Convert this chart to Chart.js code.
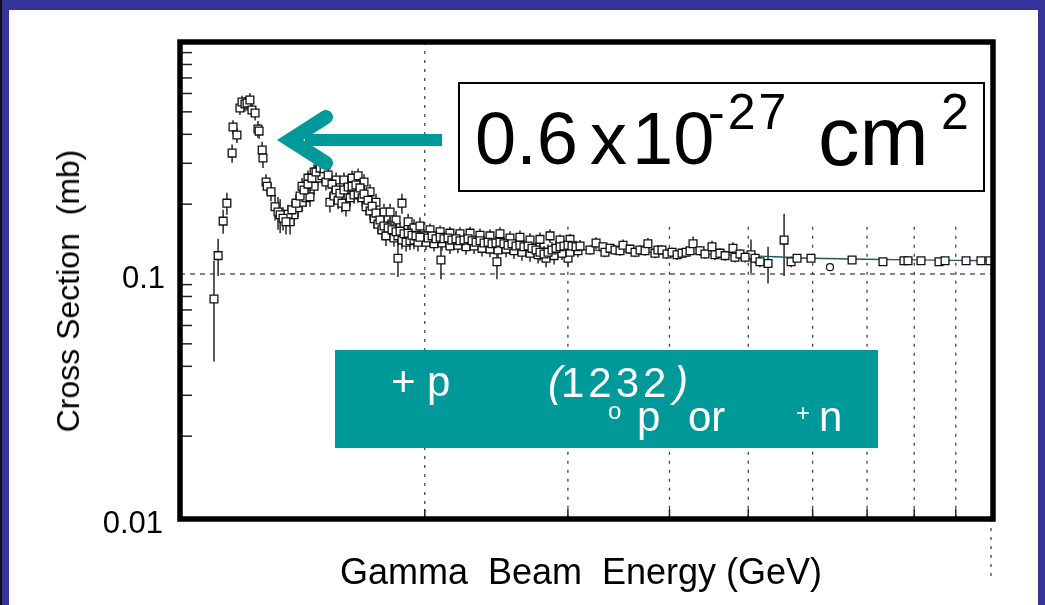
<!DOCTYPE html>
<html>
<head>
<meta charset="utf-8">
<script src="https://cdn.jsdelivr.net/npm/chart.js@4.4.1/dist/chart.umd.min.js"></script>
<style>
  html, body { margin: 0; padding: 0; }
  body { width: 1045px; height: 605px; background: #333399; position: relative; overflow: hidden;
         font-family: "Liberation Sans", Arial, sans-serif; }
  #edge { position: absolute; left: 0; top: 0; width: 2px; height: 605px; background: #111; }
  #panel { position: absolute; left: 9px; top: 10px; width: 1029px; height: 595px; background: #fff; }
  #wrap { position: absolute; left: 0; top: 0; width: 1045px; height: 605px; }
  .t { position: absolute; white-space: pre; color: #000; line-height: 1; }
  .w { color: #fff; }
  #bigbox { position: absolute; left: 458px; top: 82px; width: 523px; height: 106px;
            border: 2px solid #000; background: #fff; }
  #teal { position: absolute; left: 335px; top: 350px; width: 543px; height: 98px; background: #009999; }
</style>
</head>
<body>
<div id="edge"></div>
<div id="panel"></div>
<div id="wrap"><canvas id="chart" width="1045" height="605"></canvas></div>

<div class="t" style="font-size:32px;left:68px;top:291px;transform:translate(-50%,-50%) rotate(-90deg);">Cross Section  (mb)</div>
<div class="t" style="font-size:31px;right:880px;top:262px;">0.1</div>
<div class="t" style="font-size:31px;right:882px;top:507px;">0.01</div>
<div class="t" style="font-size:36px;left:581px;top:554px;transform:translateX(-50%);">Gamma  Beam  Energy (GeV)</div>

<div id="bigbox"></div>
<div class="t" style="font-size:74px;left:475px;top:102px;">0.6</div>
<div class="t" style="font-size:74px;left:590px;top:102px;">x</div>
<div class="t" style="font-size:74px;left:632px;top:102px;">10</div>
<div class="t" style="font-size:50px;left:708px;top:87px;letter-spacing:3px;">-27</div>
<div class="t" style="font-size:83px;left:818px;top:95px;">cm</div>
<div class="t" style="font-size:50px;left:941px;top:87px;">2</div>

<svg width="1045" height="605" style="position:absolute;left:0;top:0;">
  <line x1="305" y1="140" x2="442" y2="140" stroke="#009999" stroke-width="12"/>
  <polyline points="326,117 290,140 326,163" fill="none" stroke="#009999" stroke-width="14"
            stroke-linecap="round" stroke-linejoin="miter"/>
</svg>

<div id="teal"></div>
<div class="t w" style="font-size:42px;left:391px;top:361px;">+</div>
<div class="t w" style="font-size:42px;left:427px;top:361px;">p</div>
<div class="t w" style="font-size:42px;left:548px;top:361px;font-style:italic;">(</div>
<div class="t w" style="font-size:42px;left:561px;top:362px;letter-spacing:4px;">1232</div>
<div class="t w" style="font-size:42px;left:674px;top:361px;font-style:italic;">)</div>
<div class="t w" style="font-size:24px;left:608px;top:399px;">o</div>
<div class="t w" style="font-size:42px;left:637px;top:396px;">p</div>
<div class="t w" style="font-size:42px;left:688px;top:396px;">or</div>
<div class="t w" style="font-size:24px;left:796px;top:401px;">+</div>
<div class="t w" style="font-size:42px;left:819px;top:396px;">n</div>

<script>
// gamma-p total cross section (E in GeV, sigma in mb)
const deltaE   = [1.101,1.114,1.130,1.142,1.159,1.162,1.175,1.185,1.192,1.202,1.209,1.219,1.226,1.237,1.247,1.251,1.262,1.265,1.276,1.280,1.294,1.309,1.320,1.328,1.339,1.350];
const deltaXS  = [0.078,0.120,0.169,0.202,0.332,0.430,0.397,0.519,0.551,0.540,0.546,0.562,0.509,0.494,0.422,0.413,0.342,0.316,0.249,0.239,0.226,0.195,0.185,0.180,0.174,0.168];
const deltaErr = [0.036,0.022,0.020,0.022,0.030,0.030,0.030,0.035,0.035,0.040,0.040,0.040,0.035,0.035,0.035,0.030,0.030,0.030,0.020,0.020,0.020,0.025,0.030,0.030,0.020,0.020];

const resE   = [1.358,1.373,1.389,1.405,1.421,1.437,1.453,1.470,1.487,1.504,1.521,1.538,1.556,1.573,1.591,1.610,1.628,1.646,1.665,1.684,1.703,1.723,1.742,1.762,1.782,1.803,1.823,1.844,1.865,1.886,1.908,1.929,1.951,1.973];
const resXS  = [0.181,0.189,0.202,0.217,0.230,0.244,0.259,0.275,0.286,0.284,0.267,0.244,0.230,0.223,0.230,0.237,0.239,0.242,0.235,0.221,0.208,0.196,0.183,0.171,0.161,0.158,0.155,0.152,0.153,0.149,0.150,0.147,0.146,0.144];
const resErr = [0.018,0.018,0.018,0.018,0.020,0.020,0.020,0.020,0.022,0.022,0.020,0.020,0.018,0.018,0.018,0.018,0.018,0.018,0.018,0.018,0.016,0.016,0.016,0.015,0.015,0.014,0.014,0.014,0.014,0.012,0.012,0.012,0.012,0.012];

const resLowE   = [1.366,1.381,1.397,1.413,1.429,1.445,1.462,1.478,1.495,1.512,1.529,1.547,1.565,1.582,1.600,1.619,1.637,1.656,1.675,1.694,1.713,1.733,1.752,1.772,1.792,1.813,1.833,1.854,1.875,1.897,1.918,1.940,1.962];
const resLowXS  = [0.168,0.180,0.193,0.204,0.213,0.215,0.239,0.259,0.265,0.249,0.204,0.217,0.208,0.202,0.195,0.213,0.219,0.221,0.213,0.195,0.187,0.173,0.164,0.155,0.146,0.161,0.143,0.146,0.140,0.137,0.139,0.140,0.137];
const resLowErr = [0.020,0.018,0.018,0.018,0.018,0.020,0.020,0.020,0.020,0.020,0.020,0.018,0.018,0.018,0.018,0.018,0.018,0.018,0.018,0.016,0.016,0.016,0.015,0.015,0.014,0.014,0.012,0.012,0.012,0.012,0.012,0.012,0.012];

const resHighE   = [1.413,1.437,1.462,1.487,1.512,1.556,1.591,1.628,1.656,1.684,1.713,1.742,1.782,1.813,1.844,1.875,1.908,1.940,1.973];
const resHighXS  = [0.239,0.259,0.275,0.304,0.295,0.254,0.254,0.259,0.265,0.249,0.226,0.204,0.185,0.185,0.171,0.202,0.168,0.158,0.161];
const resHighErr = [0.020,0.020,0.022,0.022,0.022,0.020,0.020,0.020,0.020,0.020,0.018,0.018,0.016,0.016,0.016,0.020,0.014,0.014,0.014];

const bandE   = [1.996,2.019,2.042,2.065,2.089,2.112,2.136,2.160,2.185,2.210,2.235,2.261,2.287,2.313,2.339,2.366,2.393,2.420,2.447,2.475,2.503,2.532,2.561,2.590,2.619,2.649,2.680,2.710,2.741,2.772,2.804,2.836,2.868,2.901,2.934,2.967,3.001,3.035,3.070,3.105];
const bandXS  = [0.146,0.143,0.146,0.142,0.144,0.142,0.143,0.140,0.142,0.139,0.140,0.142,0.139,0.137,0.139,0.136,0.137,0.135,0.136,0.137,0.135,0.133,0.135,0.132,0.133,0.131,0.132,0.129,0.127,0.124,0.122,0.124,0.127,0.129,0.131,0.132,0.133,0.132,0.131,0.132];
const bandErr = [0.010,0.010,0.010,0.010,0.010,0.010,0.010,0.010,0.010,0.010,0.010,0.010,0.010,0.010,0.010,0.010,0.010,0.010,0.010,0.010,0.010,0.010,0.010,0.010,0.010,0.010,0.010,0.010,0.010,0.010,0.010,0.010,0.010,0.010,0.008,0.008,0.008,0.008,0.008,0.008];

const bandLowE   = [2.007,2.053,2.100,2.148,2.197,2.248,2.300,2.352,2.406,2.461,2.518,2.575,2.634,2.695,2.757,2.820,2.885,2.950,3.018,3.087];
const bandLowXS  = [0.137,0.135,0.136,0.132,0.133,0.131,0.132,0.129,0.128,0.127,0.128,0.126,0.124,0.123,0.121,0.117,0.120,0.123,0.124,0.126];
const bandLowErr = [0.010,0.010,0.010,0.010,0.010,0.010,0.010,0.010,0.010,0.010,0.010,0.010,0.010,0.010,0.010,0.010,0.010,0.008,0.008,0.008];

const bandHighE   = [2.030,2.089,2.148,2.210,2.274,2.339,2.406,2.475,2.546,2.619,2.695,2.772,2.852,2.934,3.018];
const bandHighXS  = [0.155,0.152,0.150,0.149,0.150,0.147,0.146,0.149,0.143,0.144,0.140,0.141,0.146,0.140,0.141];
const bandHighErr = [0.010,0.010,0.010,0.010,0.010,0.010,0.010,0.010,0.010,0.010,0.010,0.010,0.010,0.008,0.008];

const highE   = [3.194,3.249,3.313,3.332,3.380,3.428,3.477,3.507,3.577,3.628,3.680,3.733,3.763,3.839,3.871,3.916,3.972,4.029,4.087,4.145,4.193,4.240,4.276,4.361,4.423,4.512,4.550,4.615,4.682,4.788,4.815,4.884,4.955,5.097,5.169,5.645,5.741,5.972,6.709,7.322,7.771,7.860,8.155,8.582,8.730,9.265,9.665,9.916];
const highXS  = [0.127,0.136,0.131,0.124,0.129,0.127,0.126,0.133,0.128,0.124,0.127,0.126,0.135,0.123,0.127,0.127,0.122,0.124,0.121,0.123,0.124,0.126,0.135,0.126,0.122,0.131,0.121,0.123,0.120,0.129,0.118,0.122,0.118,0.117,0.113,0.113,0.117,0.117,0.115,0.113,0.114,0.114,0.114,0.113,0.114,0.114,0.114,0.114];
const highErr = [0.006,0.008,0.006,0.006,0.006,0.006,0.006,0.008,0.006,0.006,0.006,0.006,0.008,0.006,0.006,0.006,0.006,0.006,0.006,0.006,0.006,0.006,0.010,0.006,0.006,0.008,0.006,0.006,0.006,0.008,0.006,0.006,0.006,0.006,0.006,0.006,0.004,0.004,0.003,0.003,0.003,0.003,0.003,0.003,0.003,0.003,0.003,0.003];

const outlierE   = [1.854,2.094,2.454,3.001,5.039,5.288,5.534];
const outlierXS  = [0.117,0.115,0.113,0.117,0.121,0.111,0.140];
const outlierErr = [0.020,0.020,0.018,0.010,0.020,0.020,0.042];

const circleE  = [6.302];
const circleXS = [0.107];

const fitE  = [2.0, 2.5, 3.0, 4.0, 5.0, 6.0, 8.0, 10.0];
const fitXS = [0.136, 0.132, 0.128, 0.123, 0.120, 0.117, 0.115, 0.114];

const xGridValues = [2, 3, 4, 5, 6, 7, 8, 9];
const yMinorTicks = [0.02, 0.03, 0.04, 0.05, 0.06, 0.07, 0.08, 0.09, 0.2, 0.3, 0.4, 0.5, 0.6, 0.7, 0.8, 0.9];

function pts(xs, ys) { return xs.map((x, i) => ({ x: x, y: ys[i] })); }

function squares(xs, ys, errs) {
  return {
    data: pts(xs, ys), errs: errs,
    pointStyle: 'rect', pointRadius: 5.5, pointBorderWidth: 1.3,
    pointBorderColor: '#111', pointBackgroundColor: '#fff', showLine: false
  };
}

// dotted grid, dashed 0.1 line, inside ticks, error bars and heavy frame
const framePlugin = {
  id: 'frame',
  beforeDatasetsDraw(chart) {
    const ctx = chart.ctx, a = chart.chartArea;
    const xs = chart.scales.x, ys = chart.scales.y;
    ctx.save();
    ctx.strokeStyle = '#444';
    ctx.lineWidth = 1.3;
    ctx.setLineDash([3, 6]);
    xGridValues.forEach(v => {
      const px = xs.getPixelForValue(v);
      const top = v === 2 ? a.top : ys.getPixelForValue(0.16);
      ctx.beginPath(); ctx.moveTo(px, top); ctx.lineTo(px, a.bottom); ctx.stroke();
    });
    const px10 = xs.getPixelForValue(10) - 2;
    ctx.beginPath(); ctx.moveTo(px10, a.bottom); ctx.lineTo(px10, a.bottom + 62); ctx.stroke();
    ctx.setLineDash([5, 5]);
    const y01 = ys.getPixelForValue(0.1);
    ctx.beginPath(); ctx.moveTo(a.left, y01); ctx.lineTo(a.right, y01); ctx.stroke();
    ctx.setLineDash([]);
    ctx.strokeStyle = '#222';
    ctx.lineWidth = 1.5;
    yMinorTicks.forEach(v => {
      const py = ys.getPixelForValue(v);
      ctx.beginPath(); ctx.moveTo(a.left, py); ctx.lineTo(a.left + 12, py); ctx.stroke();
    });
    xGridValues.forEach(v => {
      const px = xs.getPixelForValue(v);
      ctx.beginPath(); ctx.moveTo(px, a.bottom); ctx.lineTo(px, a.bottom - 10); ctx.stroke();
    });
    // error bars
    ctx.strokeStyle = '#333';
    ctx.lineWidth = 1.6;
    chart.data.datasets.forEach(ds => {
      if (!ds.errs) return;
      ds.data.forEach((p, i) => {
        const px = xs.getPixelForValue(p.x);
        const hi = ys.getPixelForValue(p.y + ds.errs[i]);
        const lo = ys.getPixelForValue(Math.max(p.y - ds.errs[i], 0.009));
        ctx.beginPath(); ctx.moveTo(px, hi); ctx.lineTo(px, lo); ctx.stroke();
      });
    });
    ctx.restore();
  },
  afterDatasetsDraw(chart) {
    const ctx = chart.ctx, a = chart.chartArea;
    ctx.save();
    ctx.strokeStyle = '#000';
    ctx.lineWidth = 5.5;
    ctx.strokeRect(a.left, a.top, a.right - a.left, a.bottom - a.top);
    ctx.restore();
  }
};

new Chart(document.getElementById('chart'), {
  type: 'scatter',
  data: {
    datasets: [
      squares(deltaE, deltaXS, deltaErr),
      squares(resE, resXS, resErr),
      squares(resLowE, resLowXS, resLowErr),
      squares(resHighE, resHighXS, resHighErr),
      squares(bandE, bandXS, bandErr),
      squares(bandLowE, bandLowXS, bandLowErr),
      squares(bandHighE, bandHighXS, bandHighErr),
      squares(highE, highXS, highErr),
      squares(outlierE, outlierXS, outlierErr),
      {
        data: pts(circleE, circleXS), pointStyle: 'circle', pointRadius: 3.5, pointBorderWidth: 1.2,
        pointBorderColor: '#111', pointBackgroundColor: '#fff', showLine: false
      },
      {
        data: pts(fitE, fitXS), showLine: true, pointRadius: 0,
        borderColor: '#1f5c5c', borderWidth: 1.4, tension: 0.3
      }
    ]
  },
  options: {
    responsive: false,
    animation: false,
    layout: { padding: { left: 180, top: 42, right: 52, bottom: 86 } },
    plugins: { legend: { display: false }, tooltip: { enabled: false } },
    scales: {
      x: { type: 'logarithmic', min: 1, max: 10, display: false },
      y: { type: 'logarithmic', min: 0.00879, max: 1.0, display: false }
    }
  },
  plugins: [framePlugin]
});
</script>
</body>
</html>
